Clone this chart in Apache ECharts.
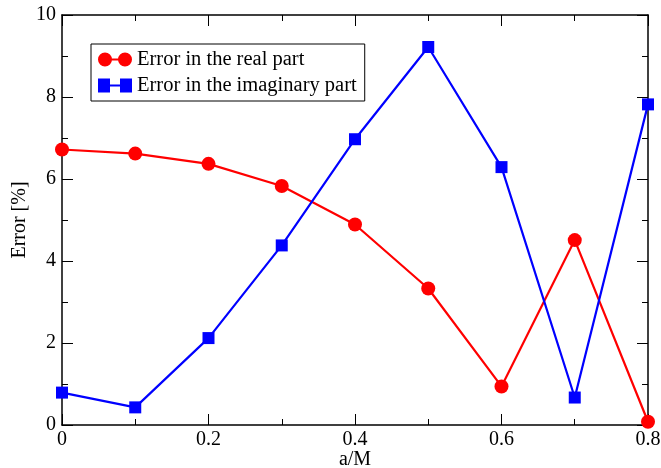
<!DOCTYPE html>
<html><head><meta charset="utf-8">
<script src="https://cdn.jsdelivr.net/npm/echarts@6/dist/echarts.min.js"></script>
<style>html,body{margin:0;padding:0;background:#fff}#c{width:661px;height:468px}</style>
</head><body><div id="c"></div>
<script>
const xValues = [0, 0.1, 0.2, 0.3, 0.4, 0.5, 0.6, 0.7, 0.8];
const realError = [6.72, 6.62, 6.37, 5.83, 4.89, 3.33, 0.94, 4.51, 0.08];
const imagError = [0.79, 0.43, 2.12, 4.38, 6.97, 9.22, 6.29, 0.67, 7.82];
const seriesNames = ['Error in the real part', 'Error in the imaginary part'];
const xName = 'a/M';
const yName = 'Error [%]';

const font = 'Liberation Serif';
const chart = echarts.init(document.getElementById('c'));
const pairs = a => xValues.map((x, i) => [x, a[i]]);
const tickCommon = () => ({
  axisLine: {show: true, onZero: false, lineStyle: {color: '#000', width: 1.5}},
  axisTick: {show: true, inside: true, length: 11, lineStyle: {color: '#000', width: 1}},
  minorTick: {show: true, splitNumber: 2, length: 6, lineStyle: {color: '#000', width: 1}},
  splitLine: {show: false}
});
chart.setOption({
  animation: false,
  grid: {left: 62, right: 13, top: 15, bottom: 43, outerBoundsMode: 'none', containLabel: false},
  legend: {
    orient: 'vertical', left: 91, top: 44,
    padding: [5, 8, 5, 7], itemGap: 5,
    borderColor: '#000', borderWidth: 1,
    itemWidth: 34, itemHeight: 14,
    textStyle: {fontFamily: font, fontSize: 20.5, color: '#000'},
    data: [
      {name: seriesNames[0], icon: 'path://M0 7A7 7 0 1 1 14 7A7 7 0 1 1 0 7ZM20 7A7 7 0 1 1 34 7A7 7 0 1 1 20 7ZM13 6L21 6L21 8L13 8Z'},
      {name: seriesNames[1], icon: 'path://M0 0L12 0L12 14L0 14ZM22 0L34 0L34 14L22 14ZM11 6L23 6L23 8L11 8Z'}
    ]
  },
  xAxis: [
    Object.assign({type: 'value', min: 0, max: 0.8, interval: 0.2,
      name: xName, nameLocation: 'middle', nameGap: 25, nameMoveOverlap: false,
      nameTextStyle: {fontFamily: font, fontSize: 20, color: '#000'},
      axisLabel: {fontFamily: font, fontSize: 20, color: '#000', margin: 5}}, tickCommon()),
    Object.assign({type: 'value', position: 'top', min: 0, max: 0.8, interval: 0.2,
      axisLabel: {show: false}}, tickCommon())
  ],
  yAxis: [
    Object.assign({type: 'value', min: 0, max: 10, interval: 2,
      name: yName, nameLocation: 'middle', nameGap: 32, nameMoveOverlap: false,
      nameTextStyle: {fontFamily: font, fontSize: 20, color: '#000'},
      axisLabel: {fontFamily: font, fontSize: 20, color: '#000', margin: 6}}, tickCommon()),
    Object.assign({type: 'value', position: 'right', min: 0, max: 10, interval: 2,
      axisLabel: {show: false}}, tickCommon())
  ],
  series: [
    {name: seriesNames[0], type: 'line', data: pairs(realError),
      symbol: 'circle', symbolSize: 14, color: '#ff0000',
      lineStyle: {width: 2.2, color: '#ff0000'}, itemStyle: {color: '#ff0000'}},
    {name: seriesNames[1], type: 'line', data: pairs(imagError),
      symbol: 'rect', symbolSize: 12, color: '#0000ff',
      lineStyle: {width: 2.2, color: '#0000ff'}, itemStyle: {color: '#0000ff'}}
  ]
});
</script></body></html>
